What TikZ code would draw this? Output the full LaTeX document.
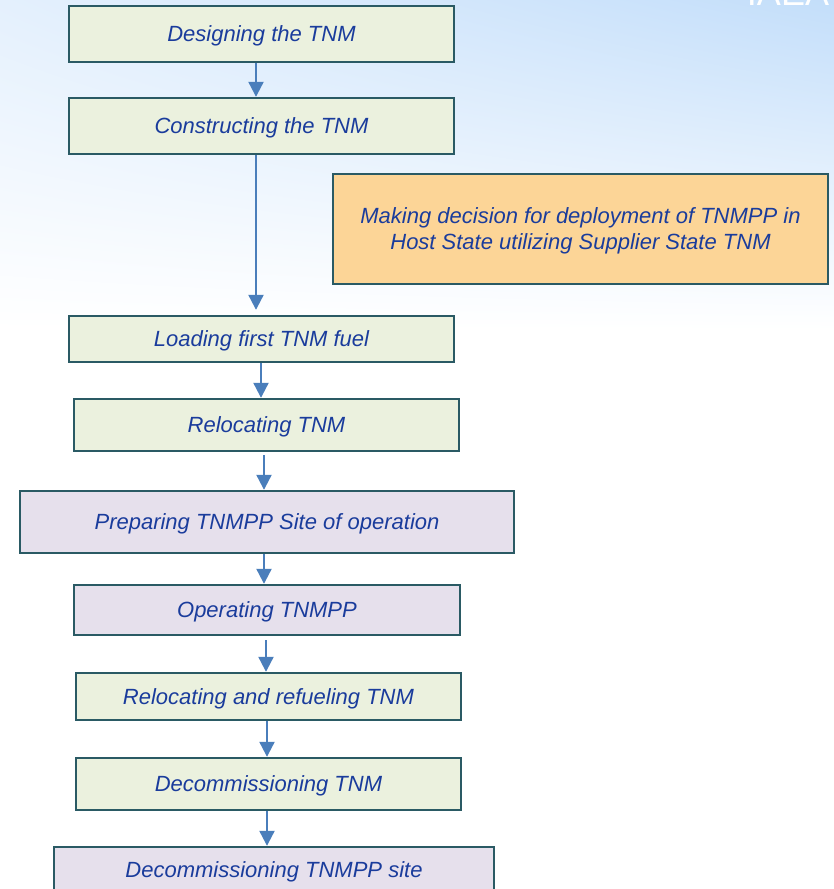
\documentclass[tikz,border=0pt]{standalone}
\usepackage{fontspec}
\setmainfont{Liberation Sans}
\usetikzlibrary{arrows.meta,shadings}
\definecolor{stepGreen}{HTML}{EBF1DE}
\definecolor{siteLilac}{HTML}{E6E0EC}
\definecolor{decisionOrange}{HTML}{FCD597}
\definecolor{boxTeal}{HTML}{2A5A64}
\definecolor{flowBlue}{HTML}{4A7EBB}
\definecolor{textBlue}{HTML}{1A3C9C}
\definecolor{skyRight}{HTML}{C3DEFA}
\definecolor{skyLeft}{HTML}{E4F0FD}

\begin{document}
\begin{tikzpicture}[x=1pt,y=-1pt,
  stepbox/.style={draw=boxTeal, line width=2.4pt, fill=stepGreen, text=textBlue,
    font=\fontsize{22}{26}\selectfont\itshape, inner sep=0pt, text depth=0pt, align=center},
  sitebox/.style={stepbox, fill=siteLilac},
  flow/.style={draw=flowBlue, line width=2.2pt, -{Triangle[width=15pt,length=15pt]}}]
 \useasboundingbox (0,0) rectangle (834,889);
 \clip (0,0) rectangle (834,889);
 % Background
 \shade[upper left=skyLeft, upper right=skyRight, lower left=white, lower right=white]
   (0,0) rectangle (834,330);
 \node[anchor=base, text=white, font=\fontsize{36}{40}\selectfont] (iaea) at (788,5) {IAEA};
 % Supplier State steps
 \node[stepbox, minimum width=385, minimum height=56] (designing) at (261.5,34) {Designing the TNM};
 \node[stepbox, minimum width=385, minimum height=56] (constructing) at (261.5,126) {Constructing the TNM};
 \node[stepbox, fill=decisionOrange, minimum width=495, minimum height=110] (decision) at (580.5,229)
   {Making decision for deployment of TNMPP in\\Host State utilizing Supplier State TNM};
 \node[stepbox, minimum width=385, minimum height=46] (loading) at (261.5,339) {Loading first TNM fuel};
 \node[stepbox, minimum width=385, minimum height=52] (relocating) at (266.5,425) {Relocating TNM};
 % Host State steps
 \node[sitebox, minimum width=494, minimum height=62] (preparing) at (267,522) {Preparing TNMPP Site of operation};
 \node[sitebox, minimum width=386, minimum height=50] (operating) at (267,610) {Operating TNMPP};
 \node[stepbox, minimum width=385, minimum height=47] (refueling) at (268.5,696.5) {Relocating and refueling TNM};
 \node[stepbox, minimum width=385, minimum height=52] (decommtnm) at (268.5,784) {Decommissioning TNM};
 \node[sitebox, minimum width=440, minimum height=46] (decommsite) at (274,870) {Decommissioning TNMPP site};
 % Flow
 \draw[flow] ([xshift=-5.5]designing.south) -- ([xshift=-5.5]constructing.north);
 \draw[flow, shorten >=5pt] ([xshift=-5.5]constructing.south) -- ([xshift=-5.5]loading.north);
 \draw[flow] ([xshift=-0.5]loading.south) -- ([xshift=-5.5]relocating.north);
 \draw[flow, shorten <=3pt] ([xshift=-2.5]relocating.south) -- ([xshift=-3]preparing.north);
 \draw[flow] ([xshift=-3]preparing.south) -- ([xshift=-3]operating.north);
 \draw[flow, shorten <=4pt] ([xshift=-1]operating.south) -- ([xshift=-2.5]refueling.north);
 \draw[flow] ([xshift=-1.5]refueling.south) -- ([xshift=-1.5]decommtnm.north);
 \draw[flow] ([xshift=-1.5]decommtnm.south) -- ([xshift=-7]decommsite.north);
\end{tikzpicture}
\end{document}
